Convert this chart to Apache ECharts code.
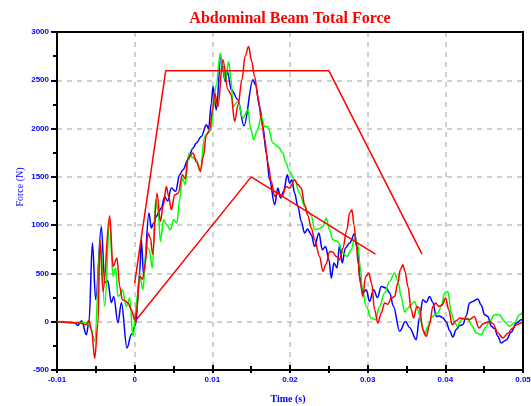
<!DOCTYPE html>
<html>
<head>
<meta charset="utf-8">
<script src="https://cdn.jsdelivr.net/npm/echarts@6/dist/echarts.min.js"></script>
<style>
html, body { margin: 0; padding: 0; background: #fff; }
#chart { width: 531px; height: 406px; }
</style>
</head>
<body>
<div id="chart"></div>
<script>
// time (s), force (N)
const blueData = [
    [-0.0100, 0], [-0.00772, -10], [-0.00734, -40], [-0.00682, 10], [-0.00622, -135], [-0.00588, 0],
    [-0.00544, 815], [-0.00502, 228], [-0.00429, 987], [-0.00386, 404], [-0.00347, 424], [-0.00300, 196],
    [-0.00270, 260], [-0.00215, -10], [-0.00171, 196], [-0.00099, -272], [-0.00042, -130], [0.00013, -30],
    [0.00064, 504], [0.00086, 849], [0.00116, 469], [0.00184, 1125], [0.00215, 970], [0.00245, 1021],
    [0.00279, 1090], [0.00313, 1142], [0.00344, 1177], [0.00386, 1297], [0.00425, 1250], [0.00472, 1384],
    [0.00528, 1350], [0.00579, 1521], [0.00622, 1573], [0.00686, 1677], [0.00750, 1797], [0.00794, 1850],
    [0.00858, 1918], [0.00923, 2039], [0.00952, 2000], [0.00987, 2263], [0.01008, 2435], [0.01051, 2194],
    [0.01109, 2740], [0.01167, 2487], [0.01193, 2591], [0.01245, 2401], [0.01329, 2298], [0.01407, 2029],
    [0.01523, 2505], [0.01557, 2450], [0.01609, 2228], [0.01651, 2021], [0.01695, 1746], [0.01737, 1470],
    [0.01802, 1211], [0.01844, 1384], [0.01879, 1280], [0.01918, 1350], [0.01965, 1521], [0.01995, 1435],
    [0.02024, 1470], [0.02059, 1332], [0.02102, 1193], [0.02145, 1038], [0.02188, 918], [0.02227, 960],
    [0.02274, 900], [0.02317, 779], [0.02372, 918], [0.02416, 745], [0.02458, 780], [0.02501, 642],
    [0.02532, 452], [0.02565, 607], [0.02606, 560], [0.02638, 797], [0.02673, 607], [0.02712, 760],
    [0.02767, 814], [0.02831, 911], [0.02874, 745], [0.02896, 469], [0.02938, 297], [0.02982, 331],
    [0.03024, 210], [0.03076, 331], [0.03127, 250], [0.03175, 365], [0.03239, 349], [0.03282, 300],
    [0.03333, 158], [0.03411, -100], [0.03488, 3], [0.03539, -60], [0.03625, -186], [0.03668, 50],
    [0.03710, 228], [0.03754, 200], [0.03797, 262], [0.03839, 200], [0.03883, 55], [0.03925, 60],
    [0.03968, 40], [0.04012, 0], [0.04054, -90], [0.04097, -158], [0.04140, -80], [0.04183, -40],
    [0.04226, -30], [0.04269, 60], [0.04311, 193], [0.04354, 210], [0.04419, 235], [0.04463, 170],
    [0.04505, 72], [0.04548, 55], [0.04591, -48], [0.04633, -70], [0.04676, -150], [0.04719, -221],
    [0.04784, -190], [0.04848, -110], [0.04913, -14], [0.04977, 20], [0.0500, 30]
];

const redData = [
    [-0.0100, 0], [-0.00837, -5], [-0.00708, -14], [-0.00622, -31], [-0.00588, 14], [-0.00553, -100],
    [-0.00515, -380], [-0.00472, -14], [-0.00447, 850], [-0.00408, 314], [-0.00322, 1097], [-0.00279, 572],
    [-0.00228, 659], [-0.00193, 365], [-0.00158, 228], [-0.00129, 220], [-0.00086, 193], [-0.00042, 124],
    [0.0000, 20], [0.00022, 90], [0.00064, 470], [0.00103, 440], [0.00135, 600], [0.00171, 918],
    [0.00202, 866], [0.00232, 700], [0.00287, 1332], [0.00331, 1038], [0.00367, 1200], [0.00408, 1400],
    [0.00438, 1300], [0.00472, 1159], [0.00515, 1314], [0.00560, 1330], [0.00614, 1521], [0.00650, 1480],
    [0.00686, 1694], [0.00750, 1746], [0.00798, 1650], [0.00846, 1556], [0.00882, 1700], [0.00923, 1935],
    [0.00965, 1987], [0.01004, 2200], [0.01030, 2367], [0.01072, 2228], [0.01136, 2712], [0.01201, 2401],
    [0.01242, 2350], [0.01287, 2073], [0.01332, 2250], [0.01381, 2505], [0.01422, 2750], [0.01467, 2849],
    [0.01506, 2700], [0.01544, 2539], [0.01589, 2320], [0.01631, 2091], [0.01673, 1884], [0.01716, 1642],
    [0.01759, 1452], [0.01802, 1297], [0.01847, 1340], [0.01896, 1297], [0.01952, 1400], [0.01995, 1384],
    [0.02059, 1470], [0.02102, 1420], [0.02145, 1384], [0.02188, 1211], [0.02230, 1100], [0.02274, 970],
    [0.02317, 849], [0.02381, 676], [0.02423, 521], [0.02467, 600], [0.02510, 728], [0.02552, 720],
    [0.02596, 676], [0.02638, 640], [0.02681, 763], [0.02732, 952], [0.02767, 1125], [0.02797, 1159],
    [0.02825, 1000], [0.02853, 779], [0.02879, 600], [0.02905, 400], [0.02938, 262], [0.02973, 469],
    [0.03015, 504], [0.03050, 400], [0.03089, 124], [0.03131, -14], [0.03175, 90], [0.03218, 193],
    [0.03260, 180], [0.03304, 245], [0.03346, 260], [0.03389, 400], [0.03420, 538], [0.03453, 590],
    [0.03481, 520], [0.03518, 365], [0.03561, 124], [0.03591, 38], [0.03633, 158], [0.03668, 140],
    [0.03710, -83], [0.03754, -152], [0.03797, -30], [0.03839, 158], [0.03874, 193], [0.03916, 160],
    [0.03961, 175], [0.04003, 245], [0.04046, 120], [0.04087, -31], [0.04140, 10], [0.04183, 38],
    [0.04247, 30], [0.04311, 20], [0.04373, 55], [0.04434, -65], [0.04485, -20], [0.04571, 3],
    [0.04614, -20], [0.04676, -117], [0.04740, -169], [0.04804, -120], [0.04869, -65], [0.04920, -30],
    [0.04977, -14], [0.0500, 10]
];

const greenData = [
    [-0.0100, 0], [-0.00708, -7], [-0.00605, -10], [-0.00566, -60], [-0.00515, -204], [-0.00441, 849],
    [-0.00386, 158], [-0.00322, 1056], [-0.00279, 469], [-0.00245, 556], [-0.00215, 262], [-0.00187, 280],
    [-0.00158, 331], [-0.00107, 158], [-0.00064, 245], [-0.00022, -152], [0.00042, 297], [0.00064, 486],
    [0.00107, 331], [0.00151, 779], [0.00187, 750], [0.00228, 556], [0.00270, 1263], [0.00302, 1150],
    [0.00331, 831], [0.00373, 1056], [0.00416, 1000], [0.00459, 952], [0.00502, 1056], [0.00544, 1021],
    [0.00579, 1263], [0.00614, 1487], [0.00650, 1420], [0.00699, 1746], [0.00746, 1700], [0.00794, 1677],
    [0.00846, 1573], [0.00901, 1918], [0.00940, 1950], [0.00987, 1987], [0.01008, 2194], [0.01049, 2450],
    [0.01103, 2781], [0.01133, 2650], [0.01167, 2505], [0.01210, 2694], [0.01242, 2500], [0.01265, 2228],
    [0.01329, 2280], [0.01394, 2108], [0.01458, 2194], [0.01493, 2000], [0.01532, 1884], [0.01577, 1980],
    [0.01631, 2125], [0.01673, 2021], [0.01716, 2020], [0.01780, 1850], [0.01844, 1815], [0.01909, 1746],
    [0.01943, 1650], [0.01995, 1556], [0.02059, 1470], [0.02124, 1330], [0.02188, 1193], [0.02230, 1142],
    [0.02274, 1100], [0.02317, 952], [0.02368, 960], [0.02423, 986], [0.02467, 1073], [0.02510, 950],
    [0.02552, 849], [0.02613, 830], [0.02681, 711], [0.02732, 676], [0.02789, 745], [0.02831, 866],
    [0.02870, 820], [0.02905, 572], [0.02931, 331], [0.02982, 158], [0.03046, 38], [0.03102, 21],
    [0.03153, 158], [0.03218, 297], [0.03282, 417], [0.03346, 504], [0.03389, 420], [0.03432, 262],
    [0.03475, 100], [0.03518, 140], [0.03552, 170], [0.03604, 210], [0.03646, 124], [0.03690, 3],
    [0.03732, -135], [0.03775, -50], [0.03818, 38], [0.03861, 72], [0.03904, 90], [0.03947, 158],
    [0.03990, 297], [0.04033, 314], [0.04076, 90], [0.04118, -10], [0.04161, -48], [0.04205, 21],
    [0.04247, 38], [0.04290, 35], [0.04333, -31], [0.04398, -117], [0.04463, -135], [0.04517, -60],
    [0.04569, 3], [0.04633, 72], [0.04698, 70], [0.04762, 3], [0.04826, -48], [0.04891, -10],
    [0.04955, 72], [0.0500, 96]
];

// corridor limits
const upperCorridor = [[0, 400], [0.004, 2600], [0.025, 2600], [0.037, 700]];
const lowerCorridor = [[0, 0], [0.015, 1500], [0.031, 700]];

const xTicks = { min: -0.01, max: 0.05, interval: 0.01 };
const yTicks = { min: -500, max: 3000, interval: 500 };

const blue = '#0000ff';
const labelStyle = { color: blue, fontSize: 8, fontWeight: 'bold', fontFamily: 'Liberation Sans, Arial, sans-serif' };

const chart = echarts.init(document.getElementById('chart'));

const curve = (name, data, color) => ({
    name: name,
    type: 'line',
    data: data,
    xAxisIndex: 0,
    yAxisIndex: 0,
    smooth: 0.35,
    smoothMonotone: 'x',
    showSymbol: false,
    symbol: 'none',
    lineStyle: { color: color, width: 1.5 },
    z: 3
});

const option = {
    animation: false,
    backgroundColor: '#fff',
    title: {
        text: 'Abdominal Beam Total Force',
        left: 285,
        top: 6,
        textAlign: 'center',
        textStyle: { color: '#ff0000', fontSize: 16, fontWeight: 'bold', fontFamily: 'Liberation Serif, Times New Roman, serif' }
    },
    grid: { left: 57, right: 8, top: 32, bottom: 36, containLabel: false, outerBoundsMode: 'none' },
    xAxis: [
        {
            type: 'value', min: xTicks.min, max: xTicks.max, interval: xTicks.interval, position: 'bottom',
            axisLine: { show: true, onZero: false, lineStyle: { color: '#000', width: 2 } },
            axisTick: { show: true, inside: false, length: 3, lineStyle: { color: '#000', width: 2 } },
            minorTick: { show: true, splitNumber: 2, length: 3, lineStyle: { color: '#000', width: 2 } },
            axisLabel: Object.assign({ margin: 6, formatter: v => String(parseFloat(v.toFixed(3))) }, labelStyle),
            splitLine: { show: true, lineStyle: { color: '#c0c0c0', width: 1.5, type: [5, 5] } }
        },
        {
            type: 'value', min: xTicks.min, max: xTicks.max, interval: xTicks.interval, position: 'bottom',
            axisLine: { show: false, onZero: false },
            axisTick: { show: true, inside: true, length: 5, lineStyle: { color: '#000', width: 2 } },
            minorTick: { show: true, splitNumber: 2, length: 4, lineStyle: { color: '#000', width: 2 } },
            axisLabel: { show: false },
            splitLine: { show: false }
        },
        {
            type: 'value', min: xTicks.min, max: xTicks.max, position: 'top', z: 5,
            axisLine: { show: true, onZero: false, lineStyle: { color: '#000', width: 2 } },
            axisTick: { show: false }, axisLabel: { show: false }, splitLine: { show: false }
        }
    ],
    yAxis: [
        {
            type: 'value', min: yTicks.min, max: yTicks.max, interval: yTicks.interval, position: 'left',
            axisLine: { show: true, onZero: false, lineStyle: { color: '#000', width: 2 } },
            axisTick: { show: true, inside: false, length: 6, lineStyle: { color: '#000', width: 2 } },
            minorTick: { show: true, splitNumber: 2, length: 3, lineStyle: { color: '#000', width: 2 } },
            axisLabel: Object.assign({ margin: 8, formatter: v => String(v) }, labelStyle),
            splitLine: { show: true, lineStyle: { color: '#c0c0c0', width: 1.5, type: [5, 5] } }
        },
        {
            type: 'value', min: yTicks.min, max: yTicks.max, interval: yTicks.interval, position: 'left',
            axisLine: { show: false, onZero: false },
            axisTick: { show: false },
            minorTick: { show: true, splitNumber: 2, length: 4, lineStyle: { color: '#000', width: 2 } },
            axisLabel: { show: false },
            splitLine: { show: false }
        },
        {
            type: 'value', min: yTicks.min, max: yTicks.max, position: 'right', z: 5,
            axisLine: { show: true, onZero: false, lineStyle: { color: '#000', width: 2 } },
            axisTick: { show: false }, axisLabel: { show: false }, splitLine: { show: false }
        }
    ],
    graphic: [
        {
            type: 'text', x: 20, y: 187, rotation: Math.PI / 2,
            style: { text: 'Force (N)', fill: blue, fontSize: 10, fontFamily: 'Liberation Serif, serif', textAlign: 'center', textVerticalAlign: 'middle' }
        },
        {
            type: 'text', x: 288, y: 399,
            style: { text: 'Time (s)', fill: blue, fontSize: 10, fontWeight: 'bold', fontFamily: 'Liberation Serif, serif', textAlign: 'center', textVerticalAlign: 'middle' }
        }
    ],
    series: [
        curve('blue', blueData, '#0000ff'),
        curve('green', greenData, '#00ff00'),
        curve('red', redData, '#ff0000'),
        {
            name: 'upper corridor', type: 'line', data: upperCorridor, showSymbol: false, symbol: 'none',
            lineStyle: { color: '#ff0000', width: 1.5 }, z: 4
        },
        {
            name: 'lower corridor', type: 'line', data: lowerCorridor, showSymbol: false, symbol: 'none',
            lineStyle: { color: '#ff0000', width: 1.5 }, z: 4
        }
    ]
};
chart.setOption(option);
</script>
</body>
</html>
